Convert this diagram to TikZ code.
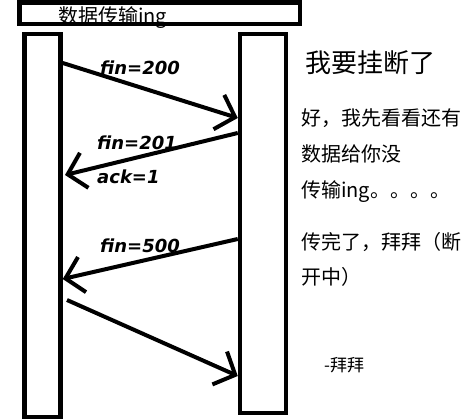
\documentclass[tikz,border=0pt]{standalone}
\usepackage{fontspec}
\setmainfont{Noto Sans CJK SC}
\newfontfamily\labfont{DejaVu Sans}
\usetikzlibrary{arrows.meta}
\tikzset{
  box/.style={draw, line width=4.5pt, inner sep=0pt},
  msg/.style={line width=4pt, -{Straight Barb[length=17pt,width=36pt]}},
  lbl/.style={anchor=base west, inner sep=0pt, font=\labfont\bfseries\itshape\fontsize{18}{20}\selectfont},
  note/.style={anchor=base west, inner sep=0pt, font=\fontsize{20}{24}\selectfont},
}
\begin{document}
\begin{tikzpicture}[x=1pt,y=-1pt]
\useasboundingbox (0,0) rectangle (475,420);
% boxes
\node[box, minimum width=280.5pt, minimum height=21.5pt] (top) at (159.75,13.25) {};
\node[box, minimum width=36pt, minimum height=383pt] (L) at (42.5,225.5) {};
\node[box, minimum width=46pt, minimum height=379pt] (R) at (263,223.5) {};
\node[note] (toptext) at (58,24) {数据传输ing};
% connector ends
\coordinate (a1s) at (L.east |- 0,63);
\coordinate (a1e) at (R.west |- 0,118);
\coordinate (a2s) at (R.west |- 0,133);
\coordinate (a2e) at (65,175);
\coordinate (a3s) at (R.west |- 0,239);
\coordinate (a3e) at (L.east |- 0,279);
\coordinate (a4s) at (67,300);
\coordinate (a4e) at (R.west |- 0,376);
\draw[msg] (a1s) -- (a1e);
\draw[msg] (a2s) -- (a2e);
\draw[msg] (a3s) -- (a3e);
\draw[msg] (a4s) -- (a4e);
% labels
\node[lbl] (l1) at (100,75) {fin=200};
\node[lbl] (l2) at (97,150) {fin=201};
\node[lbl] (l3) at (97,184) {ack=1};
\node[lbl] (l4) at (100,253) {fin=500};
% notes
\node[note, font=\fontsize{26}{30}\selectfont] (n1) at (305,73) {我要挂断了};
\node[note] (n2) at (301,126) {好，我先看看还有};
\node[note] (n3) at (301,162) {数据给你没};
\node[note] (n4) at (301,197) {传输ing。。。。};
\node[note] (n5) at (301,250) {传完了，拜拜（断};
\node[note] (n6) at (301,284) {开中）};
\node[note, font=\fontsize{17}{20}\selectfont] (n7) at (324,371) {-拜拜};
\end{tikzpicture}
\end{document}
